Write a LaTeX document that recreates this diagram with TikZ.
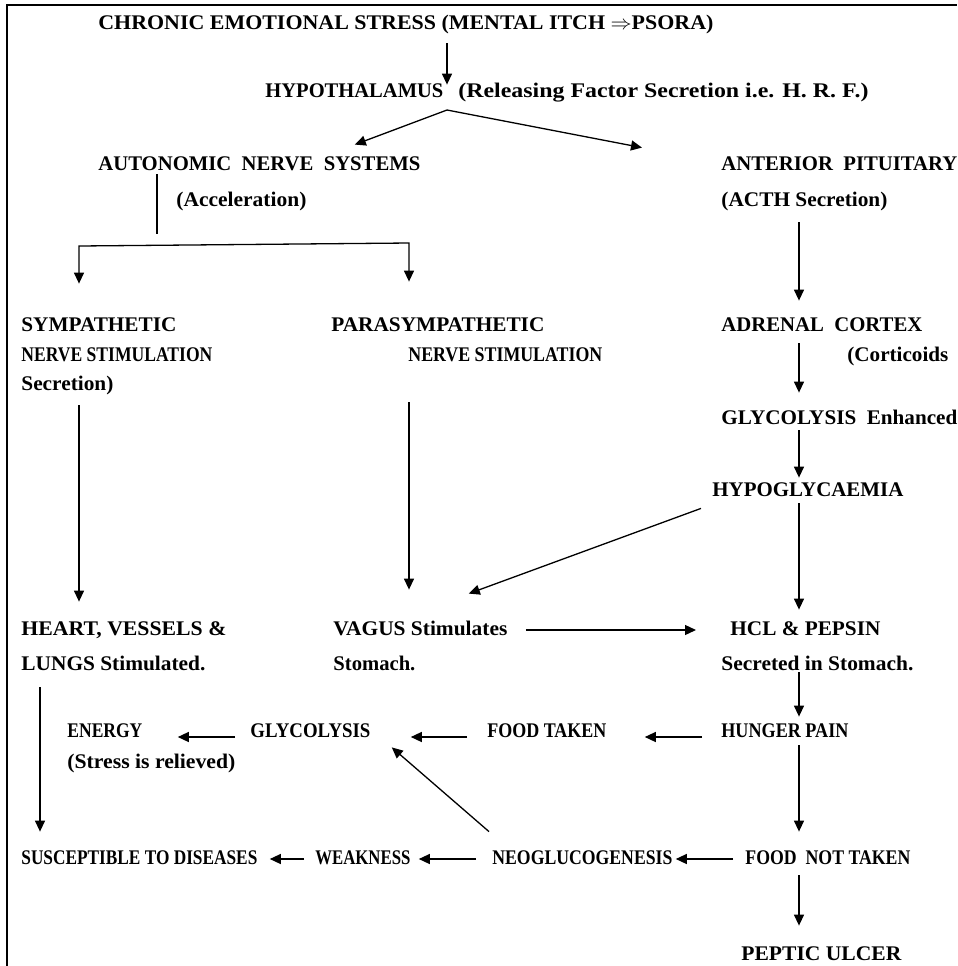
\documentclass[tikz,border=0pt]{standalone}
\usepackage{fontspec}
\setmainfont{Liberation Serif}
\usepackage{graphicx}
\usetikzlibrary{arrows.meta}

\newlength\px
\setlength\px{0.5pt}
\newcommand{\fitw}[2]{\resizebox{#1\px}{\height}{#2}}

\tikzset{
  >={Triangle[length=5.5pt,width=5pt]},
  lbl/.style={anchor=base west, inner sep=0pt, text height=7pt, text depth=2pt,
    font=\fontsize{10.4}{12}\selectfont\bfseries},
  arr/.style={->, line width=0.65pt},
  ln/.style={line width=0.65pt},
}

\begin{document}
\begin{tikzpicture}[x=0.5pt, y=-0.5pt]
\useasboundingbox (0,0) rectangle (958,966);

%% frame
\draw[line width=1pt] (7,966) -- (7,5) -- (957,5);

%% columns and free ends
\coordinate (fork) at (447,110);
\coordinate (stemend) at (157,234);
\coordinate (brL) at (79,246);
\coordinate (brR) at (409,243);
\coordinate (lc) at (79,0);
\coordinate (pc) at (409,0);
\coordinate (rc) at (799,0);
\coordinate (sc) at (40,0);

%% top
\node[lbl] (chronic) at (98,29) {\fitw{615}{CHRONIC EMOTIONAL STRESS (MENTAL ITCH $\Rightarrow$PSORA)}};
\node[lbl] (hypo) at (265,97) {\fitw{178}{HYPOTHALAMUS}};
\node[lbl] (hrf) at (458,97) {\fitw{410}{(Releasing Factor Secretion i.e. H. R. F.)}};

%% left branch
\node[lbl] (auto) at (98,170) {\fitw{322}{AUTONOMIC\ \ NERVE\ \ SYSTEMS}};
\node[lbl] (accel) at (176,206) {\fitw{130}{(Acceleration)}};
\node[lbl] (sym) at (21,331) {\fitw{155}{SYMPATHETIC}};
\node[lbl] (nerve1) at (21,361) {\fitw{191}{NERVE STIMULATION}};
\node[lbl] (secr) at (21,390) {\fitw{92}{Secretion)}};
\node[lbl] (para) at (331,331) {\fitw{213}{PARASYMPATHETIC}};
\node[lbl] (nerve2) at (408,361) {\fitw{194}{NERVE STIMULATION}};

%% right branch
\node[lbl] (ant) at (721,170) {\fitw{236}{ANTERIOR\ \ PITUITARY}};
\node[lbl] (acth) at (721,206) {\fitw{166}{(ACTH\ Secretion)}};
\node[lbl] (adrenal) at (721,331) {\fitw{201}{ADRENAL\ \ CORTEX}};
\node[lbl] (cortic) at (847,361) {\fitw{101}{(Corticoids}};
\node[lbl] (glyenh) at (721,424) {\fitw{236}{GLYCOLYSIS\ \ Enhanced}};
\node[lbl] (hypog) at (712,496) {\fitw{191}{HYPOGLYCAEMIA}};

%% middle rows
\node[lbl] (heart) at (21,635) {\fitw{205}{HEART, VESSELS \&}};
\node[lbl] (lungs) at (21,670) {\fitw{184}{LUNGS Stimulated.}};
\node[lbl] (vagus) at (333,635) {\fitw{174}{VAGUS Stimulates}};
\node[lbl] (stom) at (333,670) {\fitw{82}{Stomach.}};
\node[lbl] (hcl) at (730,635) {\fitw{150}{HCL \& PEPSIN}};
\node[lbl] (secreted) at (721,670) {\fitw{192}{Secreted in Stomach.}};

\node[lbl] (hunger) at (721,737) {\fitw{127}{HUNGER PAIN}};
\node[lbl] (foodtk) at (487,737) {\fitw{119}{FOOD TAKEN}};
\node[lbl] (glyco) at (250,737) {\fitw{120}{GLYCOLYSIS}};
\node[lbl] (energy) at (67,737) {\fitw{75}{ENERGY}};
\node[lbl] (stress) at (67,768) {\fitw{168}{(Stress is relieved)}};

%% bottom rows
\node[lbl] (susc) at (21,864) {\fitw{236}{SUSCEPTIBLE TO DISEASES}};
\node[lbl] (weak) at (315,864) {\fitw{95}{WEAKNESS}};
\node[lbl] (neo) at (492,864) {\fitw{180}{NEOGLUCOGENESIS}};
\node[lbl] (foodnot) at (745,864) {\fitw{165}{FOOD\ \ NOT TAKEN}};
\node[lbl] (peptic) at (741,960) {\fitw{160}{PEPTIC ULCER}};

%% top arrows
\draw[arr, shorten <=5pt, shorten >=-1pt] (chronic.south -| fork) -- (hypo.north -| fork);
\draw[arr] (fork) -- ([xshift=-33pt,yshift=5.5pt]auto.north east);
\draw[arr] (fork) -- ([xshift=-39.5pt,yshift=4pt]ant.north west);

%% autonomic split
\draw[ln] (auto.south -| stemend) -- (stemend);
\draw[arr, <->, shorten <=16.5pt, shorten >=17.5pt] (sym.north -| brL) -- (brL) -- (brR) -- (para.north -| brR);
\draw[arr, shorten <=5.5pt, shorten >=9.5pt] (secr.south -| lc) -- (heart.north -| lc);
\draw[arr, shorten <=18.5pt, shorten >=15.5pt] (nerve2.south -| pc) -- (vagus.north -| pc);

%% pituitary column
\draw[arr, shorten <=6pt, shorten >=8pt] (acth.south -| rc) -- (adrenal.north -| rc);
\draw[arr, shorten <=4pt, shorten >=8.5pt] (adrenal.south -| rc) -- (glyenh.north -| rc);
\draw[arr, shorten <=1pt, shorten >=2pt] (glyenh.south -| rc) -- (hypog.north -| rc);
\draw[arr, shorten <=1.5pt, shorten >=5.5pt] (hypog.south -| rc) -- (hcl.north -| rc);
\draw[arr] ([xshift=-5.5pt,yshift=-4pt]hypog.south west) -- ([xshift=-19.5pt,yshift=13.5pt]vagus.north east);
\draw[arr, shorten <=9pt, shorten >=17pt] (vagus.east) -- (hcl.west);
\draw[arr, shorten <=-1pt, shorten >=3pt] (secreted.south -| rc) -- (hunger.north -| rc);
\draw[arr, shorten <=2pt, shorten >=9pt] (hunger.south -| rc) -- (foodnot.north -| rc);
\draw[arr, shorten <=3.5pt, shorten >=10pt] (foodnot.south -| rc) -- (peptic.north -| rc);

%% hunger row
\draw[arr, shorten <=9.5pt, shorten >=19pt] (hunger.base west) -- (foodtk.base east);
\draw[arr, shorten <=10pt, shorten >=20pt] (foodtk.base west) -- (glyco.base east);
\draw[arr, shorten <=7.5pt, shorten >=17.5pt] (glyco.base west) -- (energy.base east);

%% bottom row
\draw[arr, shorten <=6.5pt, shorten >=9pt] (lungs.south -| sc) -- (susc.north -| sc);
\draw[arr, shorten <=6pt, shorten >=1.5pt] (foodnot.west) -- (neo.east);
\draw[arr, shorten <=8pt, shorten >=4pt] (neo.west) -- (weak.east);
\draw[arr, shorten <=5.5pt, shorten >=6pt] (weak.west) -- (susc.east);
\draw[arr] ([xshift=-1.5pt,yshift=9pt]neo.north west) -- ([xshift=10.5pt,yshift=-3pt]glyco.south east);
\end{tikzpicture}
\end{document}
